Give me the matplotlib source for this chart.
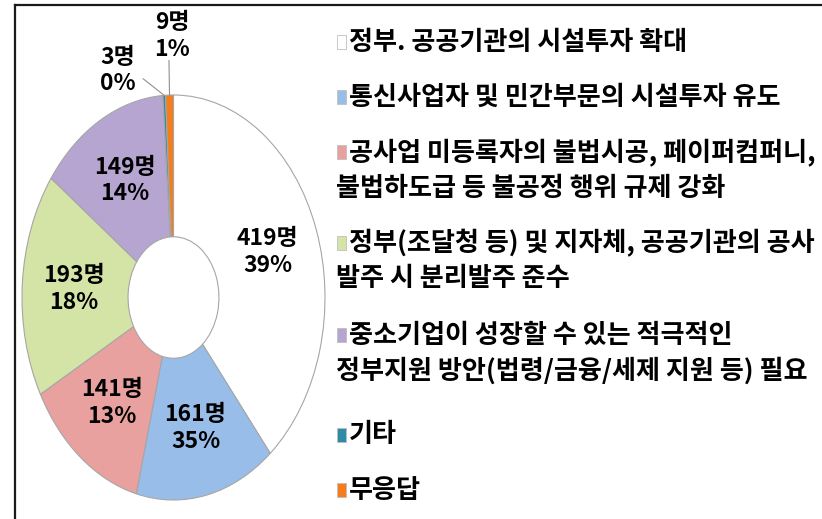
import numpy as np
import matplotlib
matplotlib.use('Agg')
import matplotlib.pyplot as plt
from matplotlib.patches import Rectangle
from matplotlib.lines import Line2D

plt.rcParams['font.family'] = ['Noto Sans CJK KR', 'DejaVu Sans']

# data
categories = ['정부. 공공기관의 시설투자 확대',
              '통신사업자 및 민간부문의 시설투자 유도',
              '공사업 미등록자의 불법시공, 페이퍼컴퍼니,\n불법하도급 등 불공정 행위 규제 강화',
              '정부(조달청 등) 및 지자체, 공공기관의 공사\n발주 시 분리발주 준수',
              '중소기업이 성장할 수 있는 적극적인\n정부지원 방안(법령/금융/세제 지원 등) 필요',
              '기타',
              '무응답']
counts = [419, 161, 141, 193, 149, 3, 9]
pct_labels = ['39%', '35%', '13%', '18%', '14%', '0%', '1%']
colors = ['#ffffff', '#98bde9', '#e8a19f', '#d4e3a6', '#b6a5d0', '#2f8aa6', '#f57d1c']

W, H = 822, 519
fig = plt.figure(figsize=(W / 100, H / 100), dpi=100)

# pie axes, stretched vertically like the original
ax = fig.add_axes([22 / W, 19 / H, 303 / W, 405 / H])
wedges, _ = ax.pie(counts, colors=colors, startangle=90, counterclock=False,
                   radius=1.0, wedgeprops=dict(width=0.70, edgecolor='#a6a6a6', linewidth=0.8))
ax.set_aspect('auto')
ax.set_xlim(-1, 1)
ax.set_ylim(-1, 1)

lab_font = dict(fontsize=16.5, fontweight='bold', ha='center', va='center',
                linespacing=1.2, color='black')
for w, n, p in zip(wedges[:5], counts[:5], pct_labels[:5]):
    ang = np.deg2rad((w.theta1 + w.theta2) / 2)
    ax.text(0.66 * np.cos(ang), 0.66 * np.sin(ang), f'{n}명\n{p}', **lab_font)

# small slices with leader lines
for n, p, xy in zip(counts[5:], pct_labels[5:], [(-0.37, 1.12), (-0.01, 1.29)]):
    ax.text(xy[0], xy[1], f'{n}명\n{p}', clip_on=False, **lab_font)
for (x0, y0), w in zip([(-0.20, 1.08), (-0.03, 1.17)], wedges[5:]):
    ang = np.deg2rad((w.theta1 + w.theta2) / 2)
    ax.add_line(Line2D([x0, np.cos(ang)], [y0, np.sin(ang)], color='#909090',
                       linewidth=0.8, clip_on=False))

# legend drawn by hand
leg_y = [42, 97, 152, 243, 335, 435, 490]
line_gap = 36
fs = 18.8
for cat, col, y in zip(categories, colors, leg_y):
    fig.patches.append(Rectangle((337 / W, 1 - (y + 7) / H), 9 / W, 14 / H,
                                 transform=fig.transFigure, facecolor=col,
                                 edgecolor='#bfbfbf', linewidth=0.6))
    lines = cat.split('\n')
    fig.text(349 / W, 1 - y / H, lines[0], fontsize=fs, fontweight='bold',
             ha='left', va='center')
    for k, extra in enumerate(lines[1:]):
        fig.text(336 / W, 1 - (y + line_gap * (k + 1)) / H, extra, fontsize=fs,
                 fontweight='bold', ha='left', va='center')

# frame (top and left edges only)
fig.add_artist(Line2D([15 / W, 15 / W], [0, 1 - 5 / H], color='#1a1a1a', linewidth=1.6))
fig.add_artist(Line2D([15 / W, 1], [1 - 5 / H, 1 - 5 / H], color='#1a1a1a', linewidth=1.6))

fig.savefig('out.png', dpi=100)
